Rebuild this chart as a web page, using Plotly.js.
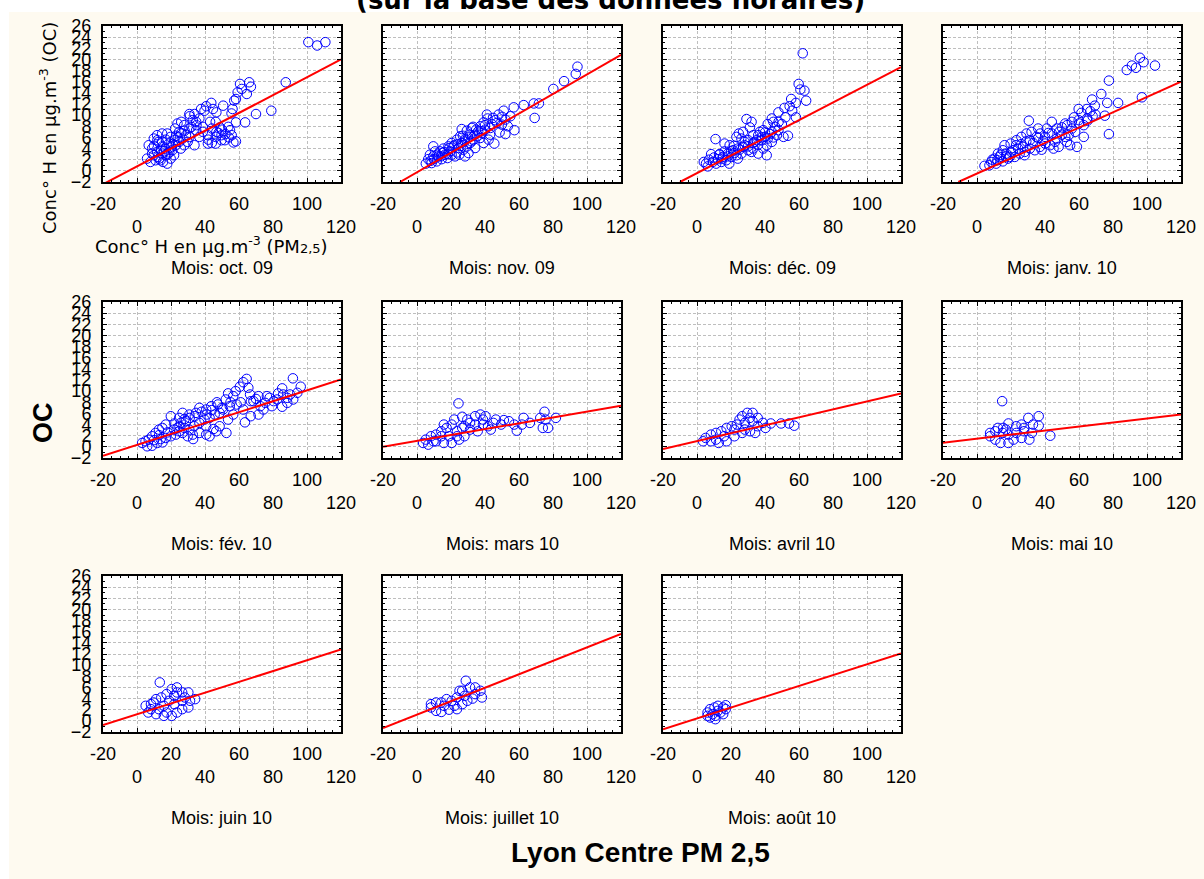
<!DOCTYPE html>
<html><head><meta charset="utf-8">
<script src="https://cdn.plot.ly/plotly-3.0.1.min.js"></script>
<style>html,body{margin:0;padding:0;background:#fff;}#chart{width:1204px;height:879px;}</style>
</head><body><div id="chart"></div>
<script>
// ---- data ----
const monthLabels = ['Mois: oct. 09','Mois: nov. 09','Mois: déc. 09','Mois: janv. 10','Mois: fév. 10','Mois: mars 10','Mois: avril 10','Mois: mai 10','Mois: juin 10','Mois: juillet 10','Mois: août 10'];

const pm_oct09 = [100.8,106,110.8,87.5,79,70,63.6,60.6,66,67,61.6,59.2,64.6,58.2,57.2,56.2,55.6,58.2,50.7,43.7,44.7,46.7,39.7,40.7,37.7,33.8,30.8,34.8,32.8,36.7,43,46.3,44,48.7,53.7,54.7,55.7,58.2,56.7,49.7,46.3,41.7,46.3,41.7,38.7,34.8,30.8,27.8,24.8,22.4,23.8,28.8,26.8,33.8,29.8,25.8,22.8,20.8,21.8,19.8,16.8,14.8,12.8,14.8,11.8,9.9,6.9,8.9,5.9,7.9,10.9,13.9,16.8,18.8,19.8,17.8,14.8,11.8,9.9,24.8,27.8,30.8,36.7,38.7,46.7,49.7,51.7,8.9,12.4,15.3,17.8,10,12,14,16,18,20,22,24,26,13,15,17,19,21,23,42,44,48,50,52,54,35,32,28,26,31];
const oc_oct09 = [23.1,22.5,23.1,15.9,10.8,10.2,8.7,15.6,15.9,15.1,14.7,14.1,13.8,12.9,12.6,11.1,10.3,8.7,11.7,12.2,11.1,10.5,10.8,11.6,11.1,10.2,10.2,8.8,9.1,9.4,8.8,8.8,7.6,7.8,7.9,7.3,6.4,5.3,5.1,5.5,4.9,4.9,6.1,6.4,7.0,7.3,7.6,8.2,7.0,7.6,8.5,6.4,5.8,4.6,5.2,4.0,4.6,3.7,2.8,2.2,2.8,3.1,5.2,6.7,6.4,5.8,4.6,4.0,2.2,1.6,1.9,1.9,4.0,4.9,6.1,6.7,5.2,3.4,2.8,5.2,4.6,6.1,6.1,7.9,7.0,6.4,5.5,3.1,2.5,1.6,1.3,4.5,5.5,3.8,3.5,3.0,4.2,5.5,6.0,6.8,2.2,4.4,5.6,3.3,4.8,6.3,5.6,5.0,6.8,7.4,6.6,6.0,8.2,7.9,7.2,8.8,9.8];

const pm_nov09 = [94.4,93.4,86.5,80.2,71.7,68.7,62.8,69.2,56.9,57.3,52,51,48,44.7,41.5,39.2,37.2,34.8,32.3,29.3,26.3,25.4,23.4,20.4,18.5,15.5,13.5,10.6,9.6,6.6,5.2,8.6,11.6,14.5,17.9,20.4,23.4,27.3,29.3,31.3,33.2,35.2,38.2,40.1,43.1,45.5,39.2,37.2,34.2,30.3,28.3,24.4,21.4,19.4,16.5,12.5,9.6,7.6,41.1,47,49.9,53.4,54.9,52,48.6,43,42.1,31.3,28.3,26.3,22.4,24.9,8,10,12,14,16,18,22,24,26,28,30,32,34,36,38,40,44,46,50,15,19,27,33];
const oc_nov09 = [18.7,17.4,16.1,14.7,12.1,12.1,11.8,9.5,11.4,7.3,6.6,10.8,10.1,9.5,9.4,8.7,8.0,7.4,7.7,7.2,7.5,6.2,5.6,5.0,4.4,4.0,3.5,3.5,2.6,2.1,1.3,1.4,1.7,2.1,2.3,2.9,3.3,3.8,4.4,5.0,5.6,6.2,6.8,7.4,7.7,4.9,5.0,5.9,4.1,3.2,2.6,4.1,4.4,3.5,2.9,2.6,4.4,2.9,10.1,8.6,8.3,8.0,9.8,9.2,6.9,6.5,5.6,6.5,5.7,5.0,2.6,2.9,1.8,2.1,2.9,2.6,3.4,3.0,4.6,4.8,4.5,5.3,6.0,5.3,6.5,7.1,7.1,8.2,8.4,9.1,9.7,3.2,4.1,6.3,7.9];

const pm_dec09 = [62.2,59.8,63.2,60.8,64.2,55.4,54.5,58.2,58.2,51.5,47.9,44,49.9,53.5,50.9,47,44.9,41.6,39,37,40,41,36,34,31.1,29.1,32.1,27.1,24.6,23.2,21.8,19.2,16.2,10.9,8.3,5.3,4,6.3,9.3,12.3,15.2,18.2,21.2,24.2,27.1,30.1,33.1,36,38,41.6,44,46,47.9,44,39,28.1,26.1,20.2,17.2,14.3,11.3,23.2,26.1,30.1,33.1,36,41,16.2,13.3,7,10,13,15,18,20,22,25,28,30,33,35,38,40,43,45,48,52,56,19,24,32];
const oc_dec09 = [21.1,15.6,14.4,14.6,12.6,12.9,11.6,12.2,9.6,11.3,10.5,9.4,8.4,6.3,6.1,6.4,8.8,8.4,7.3,7.0,6.1,2.8,3.1,5.2,7.8,9.3,8.8,7.0,6.7,6.1,4.5,4.6,4.9,5.7,3.0,1.3,1.6,0.8,1.6,2.1,2.5,3.1,3.7,4.0,4.3,3.7,4.0,4.7,5.5,5.8,7.0,7.9,7.3,5.2,4.0,5.2,5.8,2.5,1.9,1.6,1.3,2.8,3.1,5.5,6.4,6.4,4.6,3.5,3.0,2.0,2.4,2.9,2.2,2.6,3.5,3.2,3.8,4.6,4.4,5.0,5.5,6.0,6.9,6.6,6.0,8.8,9.6,10.8,1.3,2.2,3.4];

const pm_jan10 = [104.7,95.8,98,93.5,91.1,88.1,97,77.6,77.6,75.2,83,76.6,73.1,67.7,69.3,64.7,59.8,69.7,64.7,62.8,59.8,55.8,51.9,57.8,62.8,58.8,54.8,51.9,48.3,44,41,37.2,36,30.5,35,31.1,29.1,26.1,23.2,19.8,21.2,17.2,15.2,13.3,10.3,8.3,4.4,7.3,11.3,15.2,18.2,22.2,25.1,28.1,31.1,34,37,40,43,45.9,44,46.9,49.9,53.9,55.8,52.9,48,32.1,27.1,24.2,19.2,12.3,16.2,40,61.4,66.7,9,12,14,17,20,23,26,29,33,36,39,42,47,50,53,57,60,65,68,28,38,45];
const oc_jan10 = [18.9,20.3,19.5,18.5,18.9,18.1,13.2,16.2,6.6,9.9,12.2,12.2,13.8,12.8,11.7,11.1,11.1,10.1,9.4,8.2,9.1,8.8,8.5,7.0,6.1,4.3,4.6,6.1,7.0,8.8,7.6,6.7,7.6,9.0,6.1,5.5,6.7,6.1,5.5,4.9,3.7,3.1,3.7,2.5,2.2,1.6,0.9,1.0,1.3,1.7,2.2,2.5,3.1,3.4,4.0,3.7,4.3,4.9,4.6,5.2,6.7,7.6,7.8,6.4,7.6,5.2,4.3,7.0,4.3,4.0,2.5,3.1,4.6,6.1,10.4,10.7,2.0,1.9,2.9,2.6,3.4,4.6,4.8,5.3,5.0,5.9,5.4,6.8,5.8,6.5,8.2,9.6,8.5,9.0,9.8,2.8,3.8,4.0];

const pm_feb10 = [91.7,96.3,94.3,91.9,85.4,86,82.4,85.4,80.4,76.4,74.4,71.5,68.5,66.5,64.5,62.5,60.5,65.5,63.5,66.9,62.5,58.6,56.6,53.6,52.2,56.6,53.6,52.6,48.6,45.7,47.6,43.7,40.7,36.7,34.7,30.8,28.8,25.8,23.8,19.9,16.9,14.9,12.9,10.9,8.9,6.9,5,3,6,8.9,11.9,13.9,16.9,19.9,22.8,26.8,29.8,32.8,36.7,40.7,42.7,46.6,40.7,36.7,33.7,30.8,27.8,24.8,21.8,26.8,24.8,42.7,39.7,48.6,50.6,54.6,75.4,79.4,72.5,71.5,88.4,88.4,10,13,18,22,25,28,31,34,38,41,44,47,50,55,58,61,67,70,78,83,90,15,33,45];
const oc_feb10 = [12.3,10.8,9.7,8.5,10.5,9.4,8.5,7.2,8.2,9.1,6.7,9.1,8.2,9.4,12.2,11.6,10.8,10.6,4.4,5.5,6.7,7.6,9.1,9.6,8.5,5.8,4.9,2.5,3.7,5.8,7.6,7.3,6.7,7.0,6.1,5.8,4.6,4.3,3.4,5.5,4.0,3.4,3.1,2.5,1.9,1.3,1.0,0.7,0.1,0.2,0.7,1.4,1.6,1.9,2.2,2.5,1.9,2.2,2.5,2.2,1.9,2.8,3.7,4.3,3.7,3.1,3.4,2.8,3.1,6.1,5.2,5.2,4.9,6.1,6.7,7.3,7.9,7.3,7.3,5.8,8.8,7.9,1.2,2.1,2.6,4.2,3.7,5.0,5.2,5.5,6.3,5.8,6.6,8.0,7.0,8.0,10.0,8.0,8.2,8.6,8.8,9.6,9.4,0.8,1.4,3.2];

const pm_mar10 = [24.4,75,75.6,77.1,74,81.7,72.5,62.7,58.7,57.2,61.7,66.4,51.1,49.5,43.4,44.9,40.3,37.3,34.2,29.6,26.6,34.2,38.8,31.2,26.6,23.5,20.4,17.4,14.3,11.2,8.2,5.1,3.6,6.6,11.2,15.8,20.4,24.8,27.9,23.5,18.9,14.3,15.8,21.9,27.9,35.7,41.8,46.4,54.1,38.8,31.2,9.7];
const oc_mar10 = [7.8,6.3,4.9,3.4,3.4,5.2,5.2,5.2,2.9,4.0,4.0,4.3,4.8,4.0,3.1,4.3,5.5,5.8,5.5,4.9,5.4,4.0,4.0,3.1,3.4,2.8,4.0,3.4,2.8,2.2,1.9,1.3,0.7,0.4,1.0,0.7,0.7,1.3,1.9,1.9,1.9,1.9,4.0,4.9,3.7,2.8,3.7,4.9,4.6,4.9,4.3,1.0];

const pm_apr10 = [57.2,54.1,49.5,43.4,40.3,38.8,32.7,29.6,31.1,26.6,25,23.5,20.4,17.4,14.3,11.2,8.2,5.1,3.6,8.2,12.8,17.4,22,26.6,31.2,35.7,34.2,28.1,32.7,35.7,28.1,22,15.9,11.2];
const oc_apr10 = [3.8,4.2,4.2,4.2,3.4,4.3,6.1,6.1,5.2,5.5,4.9,4.0,3.7,3.4,2.8,2.5,2.2,1.6,1.0,1.0,0.7,1.0,1.9,2.5,2.8,3.7,2.5,3.1,4.6,5.2,4.3,3.1,1.9,1.3];

const pm_may10 = [14.8,36.3,30.2,36.3,43.1,32.9,27.7,26.2,23.1,18.5,15.4,12.3,7.7,7.7,10.8,13.8,18.5,21.5,26.2,30.8,23.1,18.5,15.2,27.7,32.3,10.8,17];
const oc_may10 = [8.2,5.5,5.2,3.8,2.0,4.0,3.4,4.0,3.7,4.2,3.4,3.4,2.5,1.9,1.3,0.7,0.7,1.3,1.6,1.3,2.5,2.2,2.5,2.8,2.5,2.8,3.1];

const pm_jun10 = [13.4,23.5,26.6,30.2,34.2,31.2,30.2,26.6,23.5,20.4,15.8,11.2,6.6,5.1,8.2,11.2,14.3,17.4,20.4,23.5,18.9,15.8,21.9,26.6,12.8,8.2,28.1,17.4,9.7,21.9];
const oc_jun10 = [6.9,6.0,5.1,5.1,3.9,3.6,2.4,2.1,1.5,0.9,0.9,1.2,1.5,2.7,3.0,3.9,4.2,4.8,5.7,5.1,3.6,2.7,3.0,3.6,2.1,2.1,4.2,1.5,3.3,4.5];

const pm_jul10 = [28.7,31.2,25,34.2,37.3,38.2,32.7,28.1,23.5,20.4,17.4,14.3,11.2,8.2,8.2,11.2,14.3,18.9,22,26.6,29.6,23.5,15.9,34.2,26.6];
const oc_jul10 = [7.2,6.0,5.4,6.0,5.4,4.2,4.0,4.5,4.2,3.6,3.9,3.3,3.3,3.0,2.4,1.8,1.6,2.0,2.7,3.0,3.6,2.1,2.7,4.8,5.4];

const pm_aug10 = [7.7,9.2,7.7,10.8,13.8,15.4,16.9,12.3,10.3,6.2,12.3,15.4,10.8,6.2,16.9];
const oc_aug10 = [2.1,1.2,0.6,0.9,1.5,2.4,2.8,2.7,2.4,1.5,1.8,1.2,0.3,0.9,2.1];

// regression line end points (PM, OC)
const fitX0 = [-20,-10,-10,-11,-20,-20,-20,-20,-20,-20,-20];
const fitY0 = [-2.4,-2,-2,-2,-1.6,0.0,-0.4,0.75,-0.75,-1.3,-1.5];
const fitX1 = [120,120,120,120,120,120,120,120,120,120,120];
const fitY1 = [20.0,20.8,18.6,16.0,12.1,7.4,9.6,5.8,12.8,15.6,12.1];

const xTickVals = [-20,0,20,40,60,80,100,120];
const xTickText = ['-20','\u00a0<br>0','20','\u00a0<br>40','60','\u00a0<br>80','100','\u00a0<br>120'];

const pmSeries = [pm_oct09,pm_nov09,pm_dec09,pm_jan10,pm_feb10,pm_mar10,pm_apr10,pm_may10,pm_jun10,pm_jul10,pm_aug10];
const ocSeries = [oc_oct09,oc_nov09,oc_dec09,oc_jan10,oc_feb10,oc_mar10,oc_apr10,oc_may10,oc_jun10,oc_jul10,oc_aug10];

// ---- layout ----
const W = 1204, H = 879;
const colLeft = [103,383,663,943], panelW = 238;
const rowTop = [26,302,576], panelH = 156;
const rowLabelY = [268,544,818];
const tickFontFamily = 'Liberation Sans, Arial, sans-serif';
const verdanaLike = 'DejaVu Sans, Verdana, sans-serif';

const traces = [];
const layout = {
  width: W, height: H, margin:{l:0,r:0,t:0,b:0},
  paper_bgcolor:'#FEFAF0', plot_bgcolor:'#FFFFFF', showlegend:false,
  shapes:[
    {type:'rect',xref:'paper',yref:'paper',x0:0,x1:1,y0:1-12/H,y1:1,fillcolor:'#FFFFFF',line:{width:0},layer:'below'},
    {type:'rect',xref:'paper',yref:'paper',x0:0,x1:9/W,y0:0,y1:1,fillcolor:'#FFFFFF',line:{width:0},layer:'below'}
  ],
  annotations:[]
};

for (let i = 0; i < pmSeries.length; i++) {
  const col = i % 4, row = Math.floor(i / 4);
  const xa = i === 0 ? 'x' : 'x' + (i + 1);
  const ya = i === 0 ? 'y' : 'y' + (i + 1);
  const xl = i === 0 ? 'xaxis' : 'xaxis' + (i + 1);
  const yl = i === 0 ? 'yaxis' : 'yaxis' + (i + 1);
  traces.push({type:'scatter', mode:'markers', x:pmSeries[i], y:ocSeries[i], xaxis:xa, yaxis:ya,
    marker:{symbol:'circle-open', size:9.5, color:'#0000FF', line:{width:1, color:'#0000FF'}}, cliponaxis:true, hoverinfo:'skip'});
  traces.push({type:'scatter', mode:'lines', x:[fitX0[i], fitX1[i]], y:[fitY0[i], fitY1[i]], xaxis:xa, yaxis:ya,
    line:{color:'#FF0000', width:2}, hoverinfo:'skip'});
  const x0 = colLeft[col], y0 = rowTop[row];
  layout[xl] = {
    domain:[x0/W, (x0+panelW)/W], anchor:ya, range:[-20,120],
    tickmode:'array', tickvals:xTickVals, ticktext:xTickText,
    ticks:'inside', ticklen:4, tickwidth:1, tickcolor:'#000',
    showline:true, linewidth:2, linecolor:'#000', mirror:'ticks',
    showgrid:true, gridcolor:'#BEBEBE', gridwidth:1, griddash:'3px,2px', zeroline:false,
    tickfont:{family:tickFontFamily, size:18, color:'#000'}, ticklabelstandoff:4,
    minor:{ticks:'inside', ticklen:2, tickcolor:'#000', tickmode:'linear', tick0:0, dtick:5, showgrid:false},
    fixedrange:true
  };
  layout[yl] = {
    domain:[1-(y0+panelH)/H, 1-y0/H], anchor:xa, range:[-2,26],
    tickmode:'linear', tick0:0, dtick:2,
    ticks:'inside', ticklen:4, tickwidth:1, tickcolor:'#000',
    showline:true, linewidth:2, linecolor:'#000', mirror:'ticks',
    showgrid:true, gridcolor:'#BEBEBE', gridwidth:1, griddash:'3px,2px', zeroline:false,
    showticklabels: col === 0,
    tickfont:{family:tickFontFamily, size:18, color:'#000'}, ticklabelstandoff:6,
    minor:{ticks:'inside', ticklen:2, tickcolor:'#000', tickmode:'linear', tick0:0, dtick:1, showgrid:false},
    fixedrange:true
  };
  layout.annotations.push({xref:'paper', yref:'paper', x:(x0+panelW/2)/W, y:1-rowLabelY[row]/H,
    text:monthLabels[i], showarrow:false, xanchor:'center', yanchor:'middle',
    font:{family:tickFontFamily, size:18, color:'#000'}});
}

layout.annotations.push(
  {xref:'paper', yref:'paper', x:610/W, y:1-17/H, xanchor:'center', yanchor:'bottom', showarrow:false,
   text:'<b>(sur la base des données horaires)</b>', font:{family:verdanaLike, size:26, color:'#000'}},
  {xref:'paper', yref:'paper', x:48/W, y:1-128/H, xanchor:'center', yanchor:'middle', showarrow:false, textangle:-90,
   text:'Conc° H en µg.m<sup>-3</sup> (OC)', font:{family:verdanaLike, size:18, color:'#000'}},
  {xref:'paper', yref:'paper', x:212/W, y:1-245/H, xanchor:'center', yanchor:'middle', showarrow:false,
   text:'Conc° H en µg.m<sup>-3</sup> (PM<span style="font-size:13px">2,5</span>)', font:{family:verdanaLike, size:18, color:'#000'}},
  {xref:'paper', yref:'paper', x:43/W, y:1-423/H, xanchor:'center', yanchor:'middle', showarrow:false, textangle:-90,
   text:'<b>OC</b>', font:{family:tickFontFamily, size:27, color:'#000'}},
  {xref:'paper', yref:'paper', x:640/W, y:1-852/H, xanchor:'center', yanchor:'middle', showarrow:false,
   text:'<b>Lyon Centre PM 2,5</b>', font:{family:tickFontFamily, size:28, color:'#000'}}
);

Plotly.newPlot('chart', traces, layout, {displayModeBar:false, staticPlot:true});
</script>
</body></html>
